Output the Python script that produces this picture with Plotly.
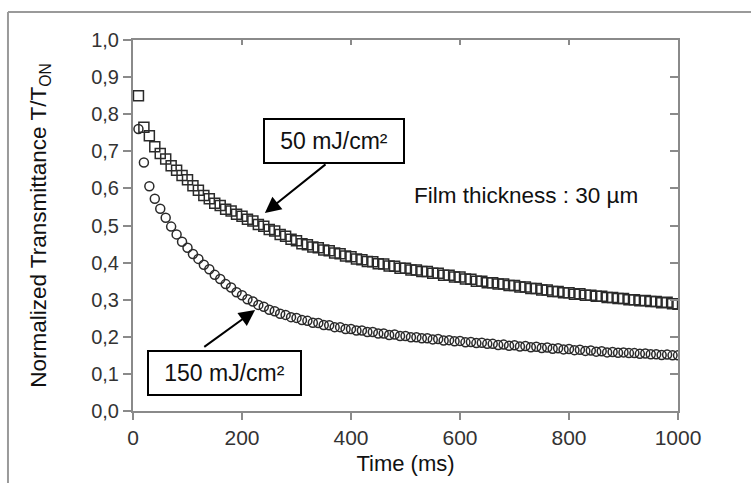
import plotly.graph_objects as go

time_ms = list(range(10, 1001, 10))

t_50mj = [0.850, 0.765, 0.742, 0.712, 0.694, 0.679, 0.661, 0.649, 0.635, 0.623,
          0.607, 0.595, 0.581, 0.572, 0.560, 0.554, 0.544, 0.539, 0.530, 0.525,
          0.517, 0.512, 0.503, 0.498, 0.489, 0.485, 0.476, 0.471, 0.463, 0.459,
          0.451, 0.448, 0.442, 0.440, 0.434, 0.432, 0.426, 0.424, 0.418, 0.416,
          0.410, 0.408, 0.403, 0.402, 0.397, 0.396, 0.391, 0.390, 0.385, 0.385,
          0.380, 0.380, 0.376, 0.376, 0.371, 0.371, 0.366, 0.366, 0.361, 0.361,
          0.356, 0.355, 0.350, 0.350, 0.346, 0.346, 0.342, 0.342, 0.338, 0.338,
          0.334, 0.334, 0.330, 0.330, 0.326, 0.326, 0.322, 0.322, 0.319, 0.319,
          0.315, 0.316, 0.312, 0.312, 0.309, 0.309, 0.306, 0.306, 0.303, 0.303,
          0.300, 0.300, 0.297, 0.298, 0.295, 0.295, 0.292, 0.293, 0.289, 0.288]

t_150mj = [0.760, 0.670, 0.606, 0.572, 0.545, 0.521, 0.497, 0.476, 0.456, 0.440,
           0.423, 0.410, 0.394, 0.382, 0.367, 0.356, 0.342, 0.333, 0.320, 0.312,
           0.301, 0.295, 0.286, 0.281, 0.273, 0.269, 0.262, 0.259, 0.253, 0.251,
           0.245, 0.243, 0.238, 0.237, 0.232, 0.231, 0.226, 0.226, 0.221, 0.221,
           0.217, 0.217, 0.213, 0.213, 0.209, 0.209, 0.205, 0.206, 0.202, 0.202,
           0.199, 0.199, 0.196, 0.196, 0.193, 0.194, 0.190, 0.191, 0.188, 0.189,
           0.185, 0.186, 0.183, 0.184, 0.181, 0.181, 0.178, 0.179, 0.176, 0.177,
           0.174, 0.175, 0.172, 0.173, 0.170, 0.171, 0.168, 0.169, 0.166, 0.167,
           0.164, 0.165, 0.162, 0.163, 0.160, 0.161, 0.158, 0.159, 0.157, 0.158,
           0.156, 0.156, 0.154, 0.155, 0.153, 0.153, 0.151, 0.152, 0.150, 0.150]

x_ticks = [0, 200, 400, 600, 800, 1000]
y_ticks = [0.0, 0.1, 0.2, 0.3, 0.4, 0.5, 0.6, 0.7, 0.8, 0.9, 1.0]

FONT = "Liberation Sans, Arial, sans-serif"
AXC = "#8a8a8a"
MK = "#2a2a2a"

fig = go.Figure()
fig.add_trace(go.Scatter(x=time_ms, y=t_50mj, mode="markers", name="50 mJ/cm²",
                         marker=dict(symbol="square-open", size=10, color=MK,
                                     line=dict(width=1.5, color=MK))))
fig.add_trace(go.Scatter(x=time_ms, y=t_150mj, mode="markers", name="150 mJ/cm²",
                         marker=dict(symbol="circle-open", size=9, color=MK,
                                     line=dict(width=1.5, color=MK))))
# invisible trace to carry the mirrored (top/right) axes with inward ticks
fig.add_trace(go.Scatter(x=time_ms, y=t_50mj, mode="markers", xaxis="x2", yaxis="y2",
                         marker=dict(opacity=0), hoverinfo="skip", showlegend=False))

fig.update_layout(
    width=751, height=483,
    margin=dict(l=133, r=73, t=40, b=72),
    paper_bgcolor="white", plot_bgcolor="white",
    showlegend=False,
    separators=",.",
    font=dict(family=FONT, color="#222"),
    xaxis=dict(range=[0, 1000], tickvals=x_ticks, ticks="outside", ticklen=7,
               tickwidth=1.5, tickcolor=AXC, showline=True, linecolor=AXC,
               linewidth=2, showgrid=False, zeroline=False, automargin=False,
               tickfont=dict(size=21, color="#333"),
               title=dict(text="Time (ms)", font=dict(size=22, color="#111"),
                          standoff=7)),
    yaxis=dict(range=[0, 1.0], tickvals=y_ticks, tickformat=".1f", ticks="outside",
               ticklen=8, tickwidth=1.5, tickcolor=AXC, showline=True,
               linecolor=AXC, linewidth=2, showgrid=False, zeroline=False,
               automargin=False,
               tickfont=dict(size=20, color="#333"),
               title=dict(text="Normalized Transmittance T/T<sub>ON</sub>",
                          font=dict(size=22.5, color="#111"), standoff=38)),
    xaxis2=dict(overlaying="x", side="top", matches="x", tickvals=x_ticks,
                ticks="inside", ticklen=5, tickwidth=1.5, tickcolor=AXC,
                showline=True, linecolor=AXC, linewidth=2, showticklabels=False,
                showgrid=False, zeroline=False, automargin=False),
    yaxis2=dict(overlaying="y", side="right", matches="y", tickvals=y_ticks,
                ticks="inside", ticklen=8, tickwidth=1.5, tickcolor=AXC,
                showline=True, linecolor=AXC, linewidth=2, showticklabels=False,
                showgrid=False, zeroline=False, automargin=False),
)

# outer frame of the figure (extends beyond the image at right/bottom)
fig.add_shape(type="line", xref="paper", yref="paper", x0=-0.2294, x1=1.3,
              y0=1.0755, y1=1.0755, line=dict(color="#9a9a9a", width=2))
fig.add_shape(type="line", xref="paper", yref="paper", x0=-0.2294, x1=-0.2294,
              y0=1.0755, y1=-0.3, line=dict(color="#9a9a9a", width=2))

# arrows
fig.add_annotation(x=242, y=0.534, ax=356, ay=0.668, xref="x", yref="y",
                   axref="x", ayref="y", text="", showarrow=True,
                   arrowhead=2, arrowsize=1.6, arrowwidth=2, arrowcolor="black")
fig.add_annotation(x=224, y=0.272, ax=128, ay=0.17, xref="x", yref="y",
                   axref="x", ayref="y", text="", showarrow=True,
                   arrowhead=2, arrowsize=1.6, arrowwidth=2, arrowcolor="black")

# labelled boxes
fig.add_annotation(x=369, y=0.728, xref="x", yref="y", text="50 mJ/cm²",
                   showarrow=False, width=138, height=42, bgcolor="white",
                   bordercolor="black", borderwidth=2, borderpad=0,
                   font=dict(size=23, color="#111", family=FONT))
fig.add_annotation(x=168, y=0.1024, xref="x", yref="y", text="150 mJ/cm²",
                   showarrow=False, width=151, height=42, bgcolor="white",
                   bordercolor="black", borderwidth=2, borderpad=0,
                   font=dict(size=23, color="#111", family=FONT))

fig.add_annotation(x=512, y=0.582, xref="x", yref="y", xanchor="left",
                   text="Film thickness : 30 µm", showarrow=False,
                   font=dict(size=22.5, color="#111", family=FONT))

fig.write_html("out.html",
               config={"displayModeBar": False},
               post_script="document.body.style.margin='0';"
                           "document.body.style.padding='0';")
